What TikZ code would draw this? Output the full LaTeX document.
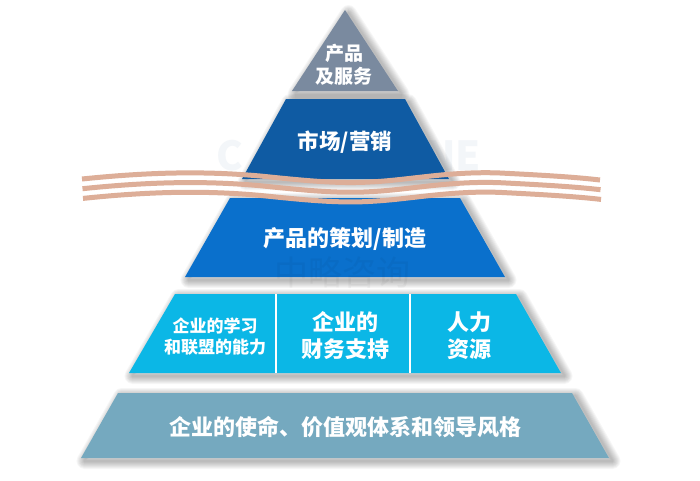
\documentclass[tikz,border=0pt]{standalone}
\usepackage{fontspec}
\setmainfont{Noto Sans CJK SC}
\definecolor{tierone}{HTML}{7A8A9F}
\definecolor{tiertwo}{HTML}{0F5BA3}
\definecolor{tierthree}{HTML}{0A70CC}
\definecolor{tierfour}{HTML}{0BB7E6}
\definecolor{tierfive}{HTML}{75A9BF}
\definecolor{ribbon}{HTML}{DDAE98}
\definecolor{markgrey}{HTML}{F3F6F9}
\tikzset{
  tiershade/.style={draw=black, line width=#1pt, line join=round, draw opacity=.035, xshift=3.5pt, yshift=-3pt},
  tierlabel/.style 2 args={text=white, font=\bfseries\fontsize{#1}{#2}\selectfont, align=center, inner sep=0pt},
  marklabel/.style={text=markgrey, font=\bfseries\fontsize{40}{40}\selectfont, inner sep=0pt},
  ribbonline/.style={draw=ribbon, line width=5pt},
}
\newcommand{\tierpoly}[2]{%
  \foreach \spread in {2,4,...,16}{\path[tiershade=\spread] #2;}
  \path[fill=#1] #2;}
\begin{document}
\begin{tikzpicture}[x=1pt,y=-1pt]
    \fill[white] (0,0) rectangle (700,480);
    \useasboundingbox (0,0) rectangle (700,480);

    \node[marklabel, anchor=west] (markleft) at (216,156) {C};
    \node[marklabel, anchor=east] (markright) at (481,156) {NE};

    % pyramid, top down
    \tierpoly{tierone}{(345,10) -- (398,91) -- (292,91) -- cycle}
    \tierpoly{tiertwo}{(286,99) -- (405,99) -- (449,179) -- (242,179) -- cycle}
    \tierpoly{tierthree}{(230,198) -- (460,198) -- (505,277) -- (185,277) -- cycle}
    \tierpoly{tierfour}{(175,294) -- (516,294) -- (561,373) -- (129,373) -- cycle}
    \tierpoly{tierfive}{(118,393) -- (572,393) -- (609,458) -- (81,458) -- cycle}

    \draw[white, line width=1.5pt] (276,294) -- (276,373);
    \draw[white, line width=1.5pt] (410,294) -- (410,373);

    % the three ribbons
    \foreach \shift/\ext in {0/0, 9.7/0.5, 19.4/1}{
      \draw[ribbonline] (82+\ext,179+\shift) .. controls (150,172+\shift) and (205,171+\shift) .. (260,176+\shift)
        .. controls (300,180+\shift) and (335,184+\shift) .. (370,182+\shift)
        .. controls (410,180+\shift) and (450,171+\shift) .. (500,173+\shift)
        .. controls (540,175+\shift) and (575,177+\shift) .. (600+\ext,180+\shift);
    }

    \node[tierlabel={19}{23}] (service) at (344,64.5) {产品\\及服务};
    \node[tierlabel={21.5}{26}] (market) at (345,142) {市场/营销};
    \node[tierlabel={22}{26}] (plan) at (345,239) {产品的策划/制造};
    \node[tierlabel={17}{21}] (learn) at (215,337) {企业的学习\\和联盟的能力};
    \node[tierlabel={22}{27}] (finance) at (345,336) {企业的\\财务支持};
    \node[tierlabel={22}{27}] (people) at (469,336) {人力\\资源};
    \node[tierlabel={22}{27}] (mission) at (345,427) {企业的使命、价值观体系和领导风格};

    \node[text=black, opacity=.04, font=\fontsize{34}{34}\selectfont, inner sep=0pt] (marktwo) at (342,273) {中略咨询};
\end{tikzpicture}
\end{document}
